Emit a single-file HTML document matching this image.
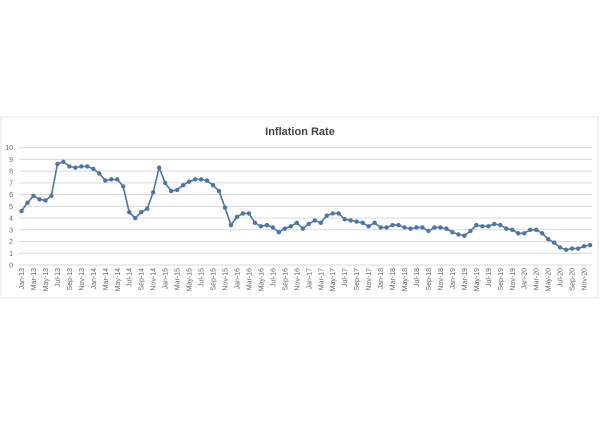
<!DOCTYPE html>
<html><head><meta charset="utf-8"><style>
html,body{margin:0;padding:0;background:#fff;}
svg{display:block;font-family:"Liberation Sans",sans-serif;}
</style></head><body>
<svg id="s" width="600" height="437" xmlns="http://www.w3.org/2000/svg">
<rect x="1" y="117" width="597" height="181" fill="#fff" stroke="#e4e4e4" stroke-width="1"/>
<text x="300" y="135" text-anchor="middle" font-size="11" font-weight="bold" fill="#444">Inflation Rate</text>
<g id="grid"></g><g id="lbl"></g><g id="ser"></g>
</svg>
<script>
var d=[4.6,5.3,5.9,5.6,5.5,5.9,8.6,8.8,8.4,8.3,8.4,8.4,
8.2,7.8,7.2,7.3,7.3,6.7,4.5,4.0,4.5,4.8,6.2,8.3,
7.0,6.3,6.4,6.8,7.1,7.3,7.3,7.2,6.8,6.3,4.9,3.4,
4.1,4.4,4.4,3.6,3.3,3.4,3.2,2.8,3.1,3.3,3.6,3.1,
3.5,3.8,3.6,4.2,4.4,4.4,3.9,3.8,3.7,3.6,3.3,3.6,
3.2,3.2,3.4,3.4,3.2,3.1,3.2,3.2,2.9,3.2,3.2,3.1,
2.8,2.6,2.5,2.9,3.4,3.3,3.3,3.5,3.4,3.1,3.0,2.7,
2.7,3.0,3.0,2.7,2.2,1.9,1.5,1.3,1.4,1.4,1.6,1.7];
var NS="http://www.w3.org/2000/svg";
function el(t,a,p,txt){var e=document.createElementNS(NS,t);for(var k in a)e.setAttribute(k,a[k]);if(txt!==undefined)e.textContent=txt;document.getElementById(p).appendChild(e);}
function X(i){return 21.5+i*5.985;}
function Y(v){return 265-v*11.73;}
for(var v=0;v<=10;v++){el('line',{x1:19,x2:592,y1:Y(v),y2:Y(v),stroke:'#d9d9d9','stroke-width':1},'grid');
el('text',{x:13,y:Y(v)+2.5,'text-anchor':'end','font-size':7,fill:'#666'},'lbl',v);}
var m=['Jan','Mar','May','Jul','Sep','Nov'];
for(var i=0;i<96;i+=2){var yr=13+Math.floor(i/12);var t=m[(i%12)/2]+'-'+yr;
el('text',{x:0,y:0,transform:'translate('+(X(i)+2.5)+',268) rotate(-90)','text-anchor':'end','font-size':7,fill:'#666'},'lbl',t);}
var p='';for(var i=0;i<96;i++)p+=(i?'L':'M')+X(i).toFixed(1)+' '+Y(d[i]).toFixed(1);
el('path',{d:p,fill:'none',stroke:'#4a76ac','stroke-width':1.6},'ser');
for(var i=0;i<96;i++)el('circle',{cx:X(i),cy:Y(d[i]),r:2.2,fill:'#4a76ac'},'ser');
</script>
</body></html>
